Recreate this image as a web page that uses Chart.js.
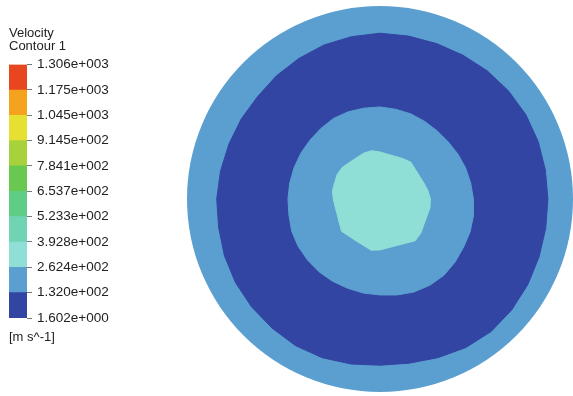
<!DOCTYPE html>
<html>
<head>
<meta charset="utf-8">
<script src="https://cdn.jsdelivr.net/npm/chart.js@4.4.1/dist/chart.umd.min.js"></script>
<style>
  body { margin: 0; background: #fff; overflow: hidden; width: 573px; height: 396px; }
  #legendBar { position: absolute; left: 0; top: 0; }
  #contour { position: absolute; left: 187px; top: 6px; }
</style>
</head>
<body>
<canvas id="legendBar" width="127" height="396"></canvas>
<canvas id="contour" width="386" height="386"></canvas>
<script>
// contour levels of velocity [m s^-1], bottom to top of the colour bar
const levels = [1.602, 132.0, 262.4, 392.8, 523.3, 653.7, 784.1, 914.5, 1045, 1175, 1306];
const bandColors = ['#3245a3', '#5a9fd0', '#8fdfd7', '#6fd3b4', '#5fcd86', '#68c84f', '#a8d23c', '#e6e033', '#f5a21e', '#e8461e'];

// angle around the pipe section, degrees clockwise from top
const angles = [0, 10, 20, 30, 40, 50, 60, 70, 80, 90, 100, 110, 120, 130, 140, 150, 160, 170,
                180, 190, 200, 210, 220, 230, 240, 250, 260, 270, 280, 290, 300, 310, 320, 330, 340, 350];

// r/R of the contour lines at each angle
const r132 = [0.859, 0.857, 0.857, 0.860, 0.866, 0.870, 0.873, 0.872, 0.870, 0.870, 0.872, 0.877,
              0.885, 0.892, 0.896, 0.889, 0.875, 0.864, 0.861, 0.868, 0.875, 0.877, 0.872, 0.869,
              0.865, 0.858, 0.849, 0.846, 0.839, 0.833, 0.830, 0.827, 0.834, 0.841, 0.849, 0.854];
const r132in = [0.477, 0.472, 0.469, 0.464, 0.461, 0.461, 0.466, 0.472, 0.477, 0.484, 0.492, 0.497,
                0.500, 0.508, 0.516, 0.516, 0.513, 0.505, 0.497, 0.495, 0.492, 0.492, 0.492, 0.491,
                0.490, 0.487, 0.479, 0.477, 0.475, 0.474, 0.474, 0.474, 0.477, 0.482, 0.481, 0.478];
const r262 = [0.244, 0.235, 0.235, 0.241, 0.249, 0.239, 0.237, 0.242, 0.252, 0.261, 0.263, 0.259,
              0.263, 0.276, 0.283, 0.265, 0.256, 0.256, 0.264, 0.269, 0.255, 0.250, 0.251, 0.260,
              0.244, 0.236, 0.236, 0.242, 0.250, 0.250, 0.256, 0.255, 0.247, 0.246, 0.252, 0.254];

const textFont = { family: "'Liberation Sans', Arial, sans-serif", size: 13, lineHeight: 1, weight: 'normal' };
const textColor = '#222';

// 1.320e+002 style numbers
function expLabel(v) {
  const parts = v.toExponential(3).split('e');
  const n = parseInt(parts[1], 10);
  return parts[0] + 'e' + (n < 0 ? '-' : '+') + String(Math.abs(n)).padStart(3, '0');
}

// colour bar
const bands = [];
for (let k = 0; k < bandColors.length; k++) {
  bands.push({
    data: [[levels[k], levels[k + 1]]],
    backgroundColor: bandColors[k],
    borderWidth: 0,
    barPercentage: 1,
    categoryPercentage: 1,
    grouped: false
  });
}

new Chart(document.getElementById('legendBar'), {
  type: 'bar',
  data: { labels: [''], datasets: bands },
  options: {
    responsive: false,
    animation: false,
    events: [],
    layout: { padding: { left: 9 } },
    scales: {
      x: { display: false },
      y: {
        position: 'right',
        min: levels[0],
        max: levels[levels.length - 1],
        afterBuildTicks: (scale) => { scale.ticks = levels.map(v => ({ value: v })); },
        afterFit: (scale) => { scale.width = 100; },
        border: { display: false },
        grid: { drawOnChartArea: false, drawTicks: true, tickLength: 5, color: '#777' },
        ticks: {
          padding: 5,
          autoSkip: false,
          color: textColor,
          font: { family: textFont.family, size: 13.5 },
          callback: (v) => expLabel(v)
        }
      }
    },
    plugins: {
      legend: { display: false },
      tooltip: { enabled: false },
      title: {
        display: true,
        text: ['Velocity', 'Contour 1'],
        align: 'start',
        color: textColor,
        font: textFont,
        padding: { top: 27, bottom: 11.5 }
      },
      subtitle: {
        display: true,
        position: 'bottom',
        text: '[m s^-1]',
        align: 'start',
        color: textColor,
        font: textFont,
        padding: { top: 12.5, bottom: 52.5 }
      }
    }
  }
});

// pipe cross-section: scale background is the wall band, filled contours on top
function contourSet(radii, color) {
  return {
    data: radii,
    backgroundColor: color,
    borderColor: color,
    borderWidth: 1,
    fill: 'origin',
    pointRadius: 0,
    pointHitRadius: 0,
    tension: 0
  };
}

new Chart(document.getElementById('contour'), {
  type: 'radar',
  data: {
    labels: angles,
    datasets: [
      contourSet(r262, bandColors[2]),
      contourSet(r132in, bandColors[1]),
      contourSet(r132, bandColors[0])
    ]
  },
  options: {
    responsive: false,
    animation: false,
    events: [],
    scales: {
      r: {
        min: 0,
        max: 1,
        backgroundColor: bandColors[1],
        grid: { display: false, circular: true },
        angleLines: { display: false },
        pointLabels: { display: false },
        ticks: { display: false }
      }
    },
    plugins: {
      legend: { display: false },
      tooltip: { enabled: false }
    }
  }
});
</script>
</body>
</html>
